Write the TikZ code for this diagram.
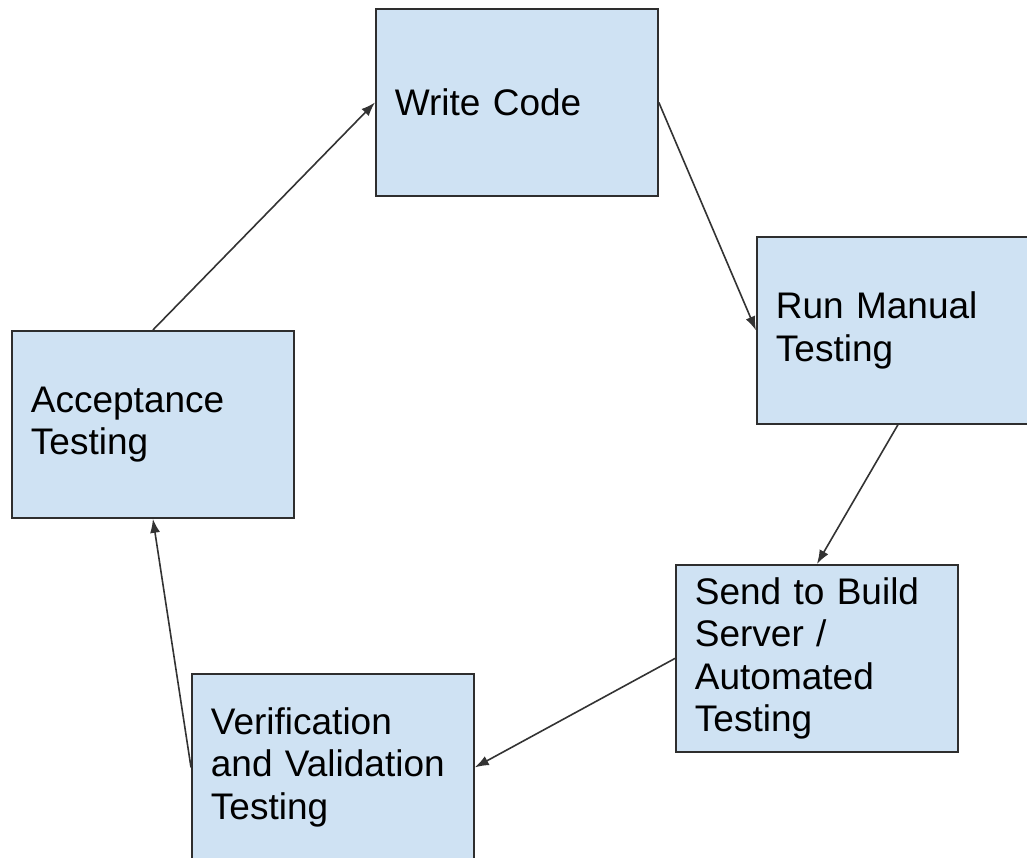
\documentclass[tikz,border=0pt]{standalone}
\usepackage{fontspec}
\setmainfont{Liberation Sans}
\usetikzlibrary{arrows.meta}
\definecolor{boxfill}{HTML}{CFE2F3}
\definecolor{boxline}{HTML}{2E2E2E}
\definecolor{arrowline}{HTML}{333333}
\begin{document}
\begin{tikzpicture}[x=1pt,y=-1pt,
  box/.style={draw=boxline, fill=boxfill, line width=1.8pt, anchor=north west,
    minimum width=282pt, minimum height=187pt, inner xsep=19pt, inner ysep=0pt,
    text width=244pt, align=left,
    font=\fontsize{37pt}{42.5pt}\selectfont},
  conn/.style={draw=arrowline, line width=1.6pt, -{Latex[length=14pt,width=10pt]}}]
\useasboundingbox (0,0) rectangle (1027,857);
\clip (0,0) rectangle (1027,857);
\fill[white] (0,0) rectangle (1027,857);
\node[box] (wc)  at (375,8)   {Write Code};
\node[box] (rm)  at (756,236) {Run Manual\\Testing};
\node[box] (snd) at (675,564) {Send to Build\\Server /\\Automated\\Testing};
\node[box] (ver) at (191,673) {Verification\\and Validation\\Testing};
\node[box] (acc) at (11,330)  {Acceptance\\Testing};
\draw[conn] (acc.north) -- (wc.west);
\draw[conn] (wc.east) -- (rm.west);
\draw[conn] (rm.south) -- (snd.north);
\draw[conn] (snd.west) -- (ver.east);
\draw[conn] (ver.west) -- (acc.south);
\end{tikzpicture}
\end{document}
